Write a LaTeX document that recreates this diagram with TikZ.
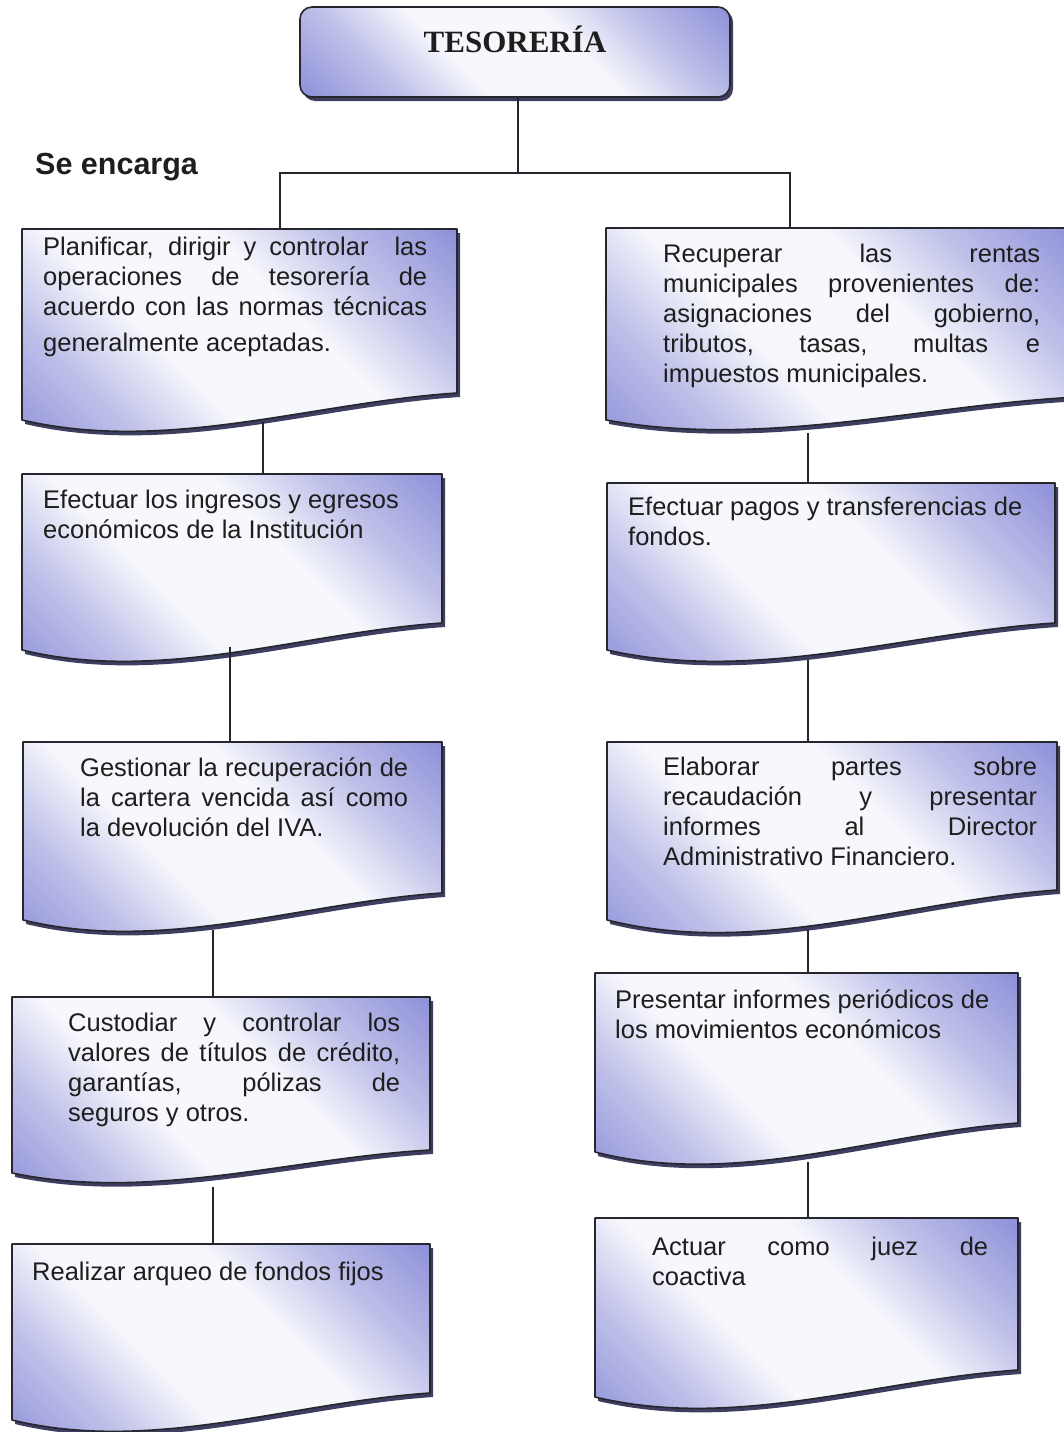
\documentclass[tikz,border=0pt]{standalone}
\usepackage{fontspec}
\setmainfont{Liberation Sans}
\newfontfamily\titlefont{Liberation Serif}
\definecolor{lav}{RGB}{140,142,216}
\definecolor{paper}{RGB}{247,248,252}
\colorlet{lavmid}{lav!52!paper}
\definecolor{ink}{RGB}{30,30,30}
\definecolor{edge}{RGB}{38,38,46}
\definecolor{shadowc}{RGB}{62,62,96}

% diagonal band: pale along one diagonal, lavender towards the two far corners
\pgfdeclareverticalshading{docshade}{100bp}{%
  color(0bp)=(lav); color(14bp)=(lav); color(29bp)=(lavmid);
  color(41bp)=(paper); color(59bp)=(paper);
  color(71bp)=(lavmid); color(86bp)=(lav); color(100bp)=(lav)}

\tikzset{
  boxfill/.style={shading=docshade, shading angle=-45},
  boxline/.style={draw=edge, line width=1.6pt, line join=round},
  boxshadow/.style={fill=shadowc},
  conn/.style={draw=edge, line width=1.4pt},
  bodytext/.style={anchor=north west, inner sep=0pt, text=ink,
    font=\fontsize{25.5}{30}\selectfont},
}

% natural interword spaces, and a strut for the first line
\newcommand{\bodystart}{\spaceskip=0pt\xspaceskip=0pt\strut}
% a line set to the full width of its text block
\newcommand{\fullline}[1]{{\spaceskip=0pt\xspaceskip=0pt\makebox[\hsize][s]{#1}}}

% document-shaped box: name, left, top, right, bottom-left y, bottom-right y
\newcommand{\docbox}[6]{%
  \pgfmathsetmacro{\dbA}{#2+(#4-#2)/3}%
  \pgfmathsetmacro{\dbB}{#2+2*(#4-#2)/3}%
  \pgfmathsetmacro{\dbC}{#5+1.25*(#5-#6)}%
  \pgfmathsetmacro{\dbD}{#5-0.65*(#5-#6)}%
  \fill[boxshadow, shift={(3,4)}] (#2,#3) -- (#4,#3) -- (#4,#6)
     .. controls (\dbB,\dbD) and (\dbA,\dbC) .. (#2,#5) -- cycle;
  \shade[boxfill] (#2,#3) -- (#4,#3) -- (#4,#6)
     .. controls (\dbB,\dbD) and (\dbA,\dbC) .. (#2,#5) -- cycle;
  \draw[boxline] (#2,#3) -- (#4,#3) -- (#4,#6)
     .. controls (\dbB,\dbD) and (\dbA,\dbC) .. (#2,#5) -- cycle;
  \coordinate (#1) at ({(#2+#4)/2},{(#3+#5)/2});
}

\begin{document}
\begin{tikzpicture}[x=1pt, y=-1pt]
\useasboundingbox (0,0) rectangle (1063,1432);

% ---- head box ----
\fill[boxshadow, rounded corners=12pt] (303,10) rectangle (733,101);
\shade[boxfill, rounded corners=12pt] (300,7) rectangle (730,97);
\draw[boxline, rounded corners=12pt] (300,7) rectangle (730,97);
\node[anchor=base, inner sep=0pt, text=ink,
      font=\titlefont\bfseries\fontsize{31}{36}\selectfont] (head) at (515,52) {TESORERÍA};

\node[anchor=base west, inner sep=0pt, text=ink,
      font=\bfseries\fontsize{30.5}{35}\selectfont] (lead) at (35,174) {Se encarga};

% ---- task boxes ----
\docbox{l1}{22}{229}{457}{420}{393}
\docbox{l2}{22}{474}{442}{650}{623}
\docbox{l3}{23}{742}{442}{920}{893}
\docbox{l4}{12}{997}{430}{1173}{1150}
\docbox{l5}{12}{1244}{430}{1420}{1393}
\docbox{r1}{606}{228}{1078}{420}{397}
\docbox{r2}{607}{483}{1055}{650}{623}
\docbox{r3}{607}{742}{1057}{920}{890}
\docbox{r4}{595}{973}{1018}{1152}{1123}
\docbox{r5}{595}{1218}{1018}{1397}{1370}

% ---- connector end points ----
\coordinate (head-s) at (518,98);
\coordinate (fork) at (518,173);
\coordinate (fork-l) at (280,173);
\coordinate (fork-r) at (790,173);
\coordinate (l1-in) at (280,229);
\coordinate (r1-in) at (790,228);
\coordinate (l1-out) at (263,422);
\coordinate (l2-in) at (263,474);
\coordinate (l2-out) at (230,647);
\coordinate (l3-in) at (230,742);
\coordinate (l3-out) at (213,930);
\coordinate (l4-in) at (213,997);
\coordinate (l4-out) at (213,1187);
\coordinate (l5-in) at (213,1244);
\coordinate (r1-out) at (808,433);
\coordinate (r2-in) at (808,483);
\coordinate (r2-out) at (808,660);
\coordinate (r3-in) at (808,742);
\coordinate (r3-out) at (808,930);
\coordinate (r4-in) at (808,973);
\coordinate (r4-out) at (808,1162);
\coordinate (r5-in) at (808,1218);

\draw[conn] (head-s) -- (fork);
\draw[conn] (l1-in) -- (fork-l) -- (fork-r) -- (r1-in);
\draw[conn] (l1-out) -- (l2-in);
\draw[conn] (l2-out) -- (l3-in);
\draw[conn] (l3-out) -- (l4-in);
\draw[conn] (l4-out) -- (l5-in);
\draw[conn] (r1-out) -- (r2-in);
\draw[conn] (r2-out) -- (r3-in);
\draw[conn] (r3-out) -- (r4-in);
\draw[conn] (r4-out) -- (r5-in);

% ---- texts ----
\node[bodytext, text width=384pt] (l1-text) at (43,234) {%
  \bodystart\fullline{Planificar, dirigir y controlar \ las}\\
  \fullline{operaciones de tesorería de}\\
  \fullline{acuerdo con las normas técnicas}\\[6pt]
  generalmente aceptadas.};

\node[bodytext, text width=370pt] (l2-text) at (43,487) {%
  \bodystart Efectuar los ingresos y egresos\\
  económicos de la Institución};

\node[bodytext, text width=328pt] (l3-text) at (80,755) {%
  \bodystart\fullline{Gestionar la recuperación de}\\
  \fullline{la cartera vencida así como}\\
  la devolución del IVA.};

\node[bodytext, text width=332pt] (l4-text) at (68,1010) {%
  \bodystart\fullline{Custodiar y controlar los}\\
  \fullline{valores de títulos de crédito,}\\
  \fullline{garantías, pólizas de}\\
  seguros y otros.};

\node[bodytext, text width=380pt] (l5-text) at (32,1259) {%
  \bodystart Realizar arqueo de fondos fijos};

\node[bodytext, text width=377pt] (r1-text) at (663,241) {%
  \bodystart\fullline{Recuperar las rentas}\\
  \fullline{municipales provenientes de:}\\
  \fullline{asignaciones del gobierno,}\\
  \fullline{tributos, tasas, multas e}\\
  impuestos municipales.};

\node[bodytext, text width=410pt] (r2-text) at (628,494) {%
  \bodystart Efectuar pagos y transferencias de\\
  fondos.};

\node[bodytext, text width=374pt] (r3-text) at (663,754) {%
  \bodystart\fullline{Elaborar partes sobre}\\
  \fullline{recaudación y presentar}\\
  \fullline{informes al Director}\\
  Administrativo Financiero.};

\node[bodytext, text width=395pt] (r4-text) at (615,987) {%
  \bodystart Presentar informes periódicos de\\
  los movimientos económicos};

\node[bodytext, text width=336pt] (r5-text) at (652,1234) {%
  \bodystart\fullline{Actuar como juez de}\\
  coactiva};

\end{tikzpicture}
\end{document}
